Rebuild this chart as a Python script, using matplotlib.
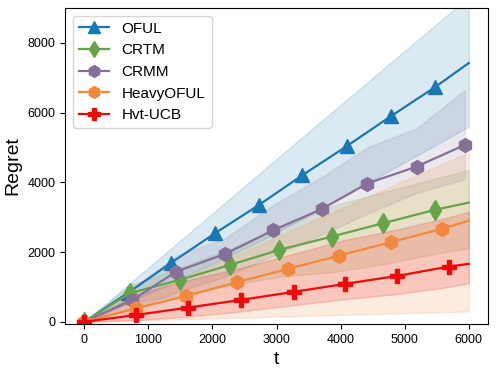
import matplotlib
matplotlib.use("Agg")
import matplotlib.pyplot as plt

plt.rcParams['font.family'] = ['Liberation Sans', 'DejaVu Sans']

# ---- data ----
names = ["OFUL", "CRTM", "CRMM", "HeavyOFUL", "Hvt-UCB"]

t_oful = [0, 689, 1352, 2040, 2725, 3400, 4099, 4780, 5467, 6000]
m_oful = [0, 840, 1690, 2540, 3350, 4200, 5040, 5890, 6720, 7420]
lo_oful = [0, 560, 1120, 1700, 2300, 2950, 3650, 4350, 5050, 5600]
hi_oful = [0, 1070, 2100, 3170, 4240, 5290, 6370, 7430, 8490, 9320]

t_crtm = [0, 711, 1489, 2277, 3044, 3864, 4667, 5467, 6000]
m_crtm = [0, 823, 1204, 1634, 2064, 2446, 2830, 3211, 3420]
lo_crtm = [0, 550, 750, 1050, 1300, 1420, 1650, 1950, 2113]
hi_crtm = [0, 1050, 1550, 2100, 2700, 3320, 3720, 4100, 4358]

t_crmm = [0, 753, 1437, 2200, 2948, 3703, 4414, 5187, 5940]
m_crmm = [0, 631, 1442, 1950, 2628, 3231, 3966, 4453, 5075]
lo_crmm = [0, 350, 850, 1300, 1900, 2500, 3100, 3700, 4090]
hi_crmm = [0, 950, 1900, 2400, 3350, 4150, 5000, 5550, 6650]

t_heavy = [0, 815, 1593, 2386, 3180, 3978, 4782, 5576, 6000]
m_heavy = [0, 393, 745, 1138, 1520, 1901, 2285, 2666, 2904]
lo_heavy = [0, 40, 80, 120, 160, 200, 240, 280, 300]
hi_heavy = [0, 660, 1290, 1930, 2580, 3230, 3880, 4520, 4854]

t_hvt = [0, 815, 1618, 2449, 3267, 4067, 4885, 5689, 6000]
m_hvt = [0, 201, 410, 631, 860, 1089, 1319, 1586, 1663]
lo_hvt = [0, 50, 150, 300, 480, 650, 800, 1000, 1109]
hi_hvt = [0, 800, 1200, 1550, 1950, 2350, 2650, 3000, 3162]

xticks = [0, 1000, 2000, 3000, 4000, 5000, 6000]
yticks = [0, 2000, 4000, 6000, 8000]

# ---- styling ----
colors = ["#1a77b3", "#66a34a", "#86709a", "#f0893d", "#ee0a0a"]
markers = ["^", "d", "h", "h", "P"]
msizes = [10, 10, 10, 10, 9.5]

series = [
    (t_oful, m_oful, lo_oful, hi_oful),
    (t_crtm, m_crtm, lo_crtm, hi_crtm),
    (t_crmm, m_crmm, lo_crmm, hi_crmm),
    (t_heavy, m_heavy, lo_heavy, hi_heavy),
    (t_hvt, m_hvt, lo_hvt, hi_hvt),
]

fig = plt.figure(figsize=(4.98, 3.75), dpi=100)
ax = fig.add_axes([0.1305, 0.136, 0.8495, 0.843])

for (t, m, lo, hi), name, c, mk, ms in zip(series, names, colors, markers, msizes):
    ax.fill_between(t, lo, hi, color=c, alpha=0.16, linewidth=1)
    n = len(t)
    mev = list(range(n)) if name == "CRMM" else list(range(n - 1))
    ax.plot(t, m, color=c, marker=mk, markersize=ms, linewidth=1.6,
            markevery=mev, label=name)

ax.set_xlim(-300, 6300)
ax.set_ylim(-60, 9000)
ax.set_xticks(xticks)
ax.set_yticks(yticks)
ax.tick_params(labelsize=9)
ax.set_xlabel("t", fontsize=14)
ax.set_ylabel("Regret", fontsize=14)
ax.legend(loc="upper left", fontsize=11, markerscale=0.85)

fig.savefig("out.png", dpi=100)
